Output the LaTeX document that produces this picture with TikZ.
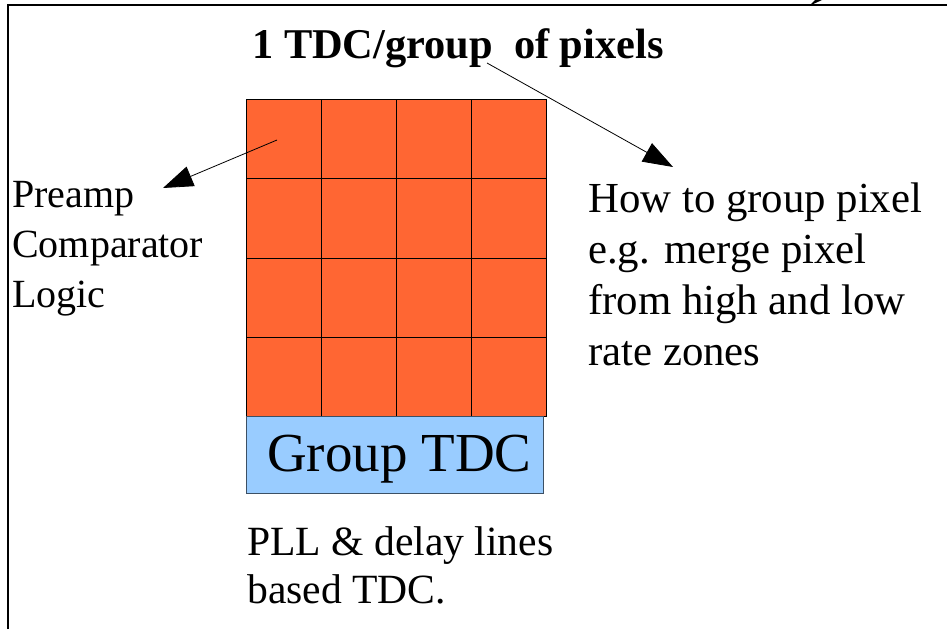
\documentclass[tikz,border=0pt]{standalone}
\usepackage{fontspec}
\setmainfont{Liberation Serif}
\usetikzlibrary{arrows.meta}
\definecolor{cellorange}{HTML}{FF6633}
\definecolor{tdcblue}{HTML}{99CCFF}
\definecolor{tdcborder}{HTML}{3C5064}
\begin{document}
\begin{tikzpicture}[x=1pt,y=-1pt,
  cell/.style={draw=black,line width=0.8pt,fill=cellorange,minimum width=75pt,minimum height=79.25pt,inner sep=0pt,anchor=north west},
  txt/.style={inner sep=0pt,anchor=base west,align=left},
  pointer/.style={line width=0.8pt,-{Triangle[length=30pt,width=21pt]}}]
\useasboundingbox (0,0) rectangle (947,629);
\draw[line width=1.5pt] (8,629) -- (8,5) -- (947,5);
\foreach \r in {1,...,4} {
  \foreach \c in {1,...,4} {
    \node[cell] (c\r\c) at ({246+75*(\c-1)},{99+79.25*(\r-1)}) {};
  }
}
\node[draw=tdcborder, fill=tdcblue, line width=0.8pt, minimum width=297pt, minimum height=77pt, anchor=north west, inner sep=0pt] (tdc) at (246,416) {};
\node[txt, font=\fontsize{55}{60}\selectfont] (tdclabel) at (267,471) {Group TDC};
\node[txt, font=\fontsize{42.4}{50}\selectfont\bfseries] (title) at (252,58) {1 TDC/group\ \ of pixels};
\node[txt, font=\fontsize{40}{50}\selectfont] (left) at (12,307) {Preamp\\Comparator\\Logic};
\node[txt, font=\fontsize{42.8}{51}\selectfont] (right) at (588,365) {How to group pixel\\e.g. merge pixel\\from high and low\\rate zones};
\node[txt, font=\fontsize{41.6}{48}\selectfont] (bottom) at (247,603) {PLL \& delay lines\\based TDC.};
\coordinate (lstart) at (277,140);
\coordinate (ltip) at (163,188);
\draw[pointer] (lstart) -- (ltip);
\coordinate (rstart) at (487,63);
\coordinate (rtip) at (673,167);
\draw[pointer] (rstart) -- (rtip);
\fill (809,6) -- (815,0) -- (822,0) -- cycle;
\end{tikzpicture}
\end{document}
